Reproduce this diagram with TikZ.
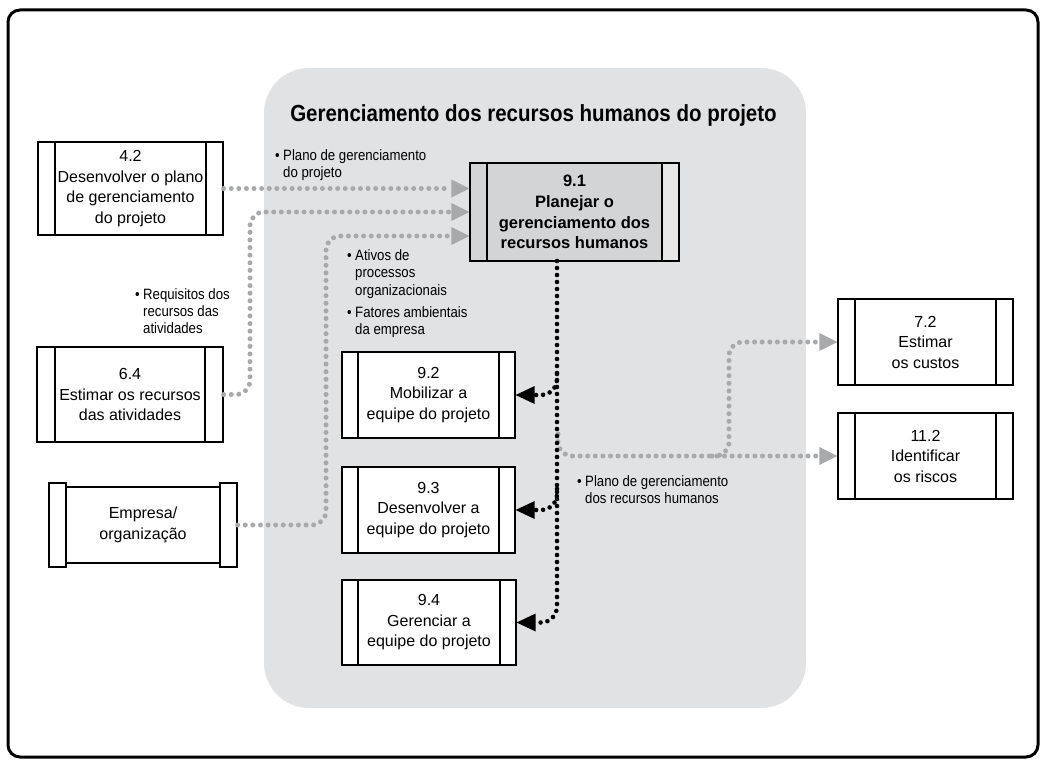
\documentclass[tikz,border=0pt]{standalone}
\usepackage{fontspec}
\setmainfont{Liberation Sans}
\newfontfamily\condfont{Liberation Sans}[FakeStretch=0.88]
\usetikzlibrary{arrows.meta}
\definecolor{regiongrey}{HTML}{E1E2E4}
\definecolor{mainfill}{HTML}{D3D4D6}
\definecolor{barlight}{HTML}{E6E6E7}
\definecolor{dotgrey}{HTML}{A8A9AB}
\newcommand\bxfont{\fontsize{16}{20.5}\selectfont}
\newcommand\lblfont{\condfont\fontsize{15}{17.2}\selectfont}
\newcommand\bul{\llap{\textbullet\hspace{3.5pt}}}
\tikzset{
  proc/.style={draw=black, line width=1.3pt, fill=white, inner sep=0pt, align=center, font=\bxfont,
    path picture={\draw[line width=1.3pt]
      ([xshift=#1]path picture bounding box.north west) -- ([xshift=#1]path picture bounding box.south west)
      ([xshift=-#1]path picture bounding box.north east) -- ([xshift=-#1]path picture bounding box.south east);}},
  mainproc/.style={draw=black, line width=1.3pt, fill=mainfill, inner sep=0pt, align=center,
    font=\bfseries\fontsize{16.5}{20.7}\selectfont,
    path picture={\fill[barlight] ([xshift=-#1]path picture bounding box.north east) rectangle (path picture bounding box.south east);
      \draw[line width=1.3pt]
      ([xshift=#1]path picture bounding box.north west) -- ([xshift=#1]path picture bounding box.south west)
      ([xshift=-#1]path picture bounding box.north east) -- ([xshift=-#1]path picture bounding box.south east);}},
  scrollbar/.style={draw=black, line width=1.3pt, fill=white, inner sep=0pt, minimum width=17pt, minimum height=84pt},
  lbl/.style={anchor=west, align=left, inner sep=0pt, font=\lblfont},
  gdot/.style={draw=dotgrey, line width=5pt, line cap=round, dash pattern=on 0pt off 7.6pt, rounded corners=14pt,
    -{Triangle[length=18pt,width=18pt,line width=0pt]}},
  bdot/.style={draw=black, line width=4.6pt, line cap=round, dash pattern=on 0pt off 7pt, rounded corners=16pt,
    -{Triangle[length=19pt,width=18pt,line width=0pt]}},
}
\begin{document}
\begin{tikzpicture}[x=1pt,y=-1pt]
\useasboundingbox (0,0) rectangle (1046,765);
\draw[line width=3pt, rounded corners=12pt] (8,10) rectangle (1038,757);
\fill[regiongrey, rounded corners=45pt] (264,68) rectangle (806,708);
\node[font=\condfont\bfseries\fontsize{23.3}{28}\selectfont, inner sep=0pt] (title) at (533.5,115) {Gerenciamento dos recursos humanos do projeto};

% process boxes
\node[proc=17pt, minimum width=185pt, minimum height=93pt] (n42) at (130.5,188.5) {4.2\\Desenvolver o plano\\de gerenciamento\\do projeto};
\node[proc=18pt, minimum width=186pt, minimum height=95pt] (n64) at (130,394.5) {6.4\\Estimar os recursos\\das atividades};
\node[draw=black, line width=1.3pt, fill=white, inner sep=0pt, align=center, font=\bxfont, minimum width=188pt, minimum height=76pt] (emp) at (143,525) {Empresa/\\organização};
\node[scrollbar] (empL) at (57.5,525) {};
\node[scrollbar] (empR) at (228.5,525) {};
\node[mainproc=17pt, minimum width=209pt, minimum height=98pt] (n91) at (574.5,212) {9.1\\Planejar o\\gerenciamento dos\\recursos humanos};
\node[proc=16pt, minimum width=173pt, minimum height=86pt] (n92) at (428.5,395) {9.2\\Mobilizar a\\equipe do projeto};
\node[proc=16pt, minimum width=173pt, minimum height=86pt] (n93) at (428.5,510) {9.3\\Desenvolver a\\equipe do projeto};
\node[proc=16pt, minimum width=174pt, minimum height=85pt] (n94) at (429,622.5) {9.4\\Gerenciar a\\equipe do projeto};
\node[proc=17pt, minimum width=175pt, minimum height=86pt] (n72) at (925.5,342) {7.2\\Estimar\\os custos};
\node[proc=17pt, minimum width=175pt, minimum height=86pt] (n112) at (925.5,456) {11.2\\Identificar\\os riscos};

% labels
\node[lbl] (l1) at (283,165) {\bul Plano de gerenciamento\\do projeto};
\node[lbl] (l2) at (143,311) {\bul Requisitos dos\\recursos das\\atividades};
\node[lbl] (l3) at (355,274) {\bul Ativos de\\processos\\organizacionais};
\node[lbl] (l4) at (355,322) {\bul Fatores ambientais\\da empresa};
\node[lbl] (l5) at (585,489.5) {\bul Plano de gerenciamento\\dos recursos humanos};

% coordinates
\coordinate (vtop) at (557,261);
\coordinate (g64) at (250,394.5);
\coordinate (g64t) at (250,212);
\coordinate (gemp) at (326,525);
\coordinate (gempt) at (326,236);
\coordinate (b2) at (557,374);
\coordinate (b2c) at (557,395);
\coordinate (b3) at (557,489);
\coordinate (b3c) at (557,510);
\coordinate (gs) at (558,434);
\coordinate (gsc) at (558,456);
\coordinate (gb) at (712,456);
\coordinate (gbc) at (729,456);
\coordinate (gbt) at (729,342);

% grey input arrows
\draw[gdot] (n42.east) -- (n91.west |- n42.east);
\draw[gdot] (n64.east) -- (g64) -- (g64t) -- (n91.west);
\draw[gdot] (emp.east) -- (gemp) -- (gempt) -- ([yshift=-24pt]n91.west);

% grey output arrows
\draw[gdot] (gs) -- (gsc) -- (n112.west);
\draw[gdot] (gb) -- (gbc) -- (gbt) -- (n72.west);

% black arrows
\draw[bdot] (vtop) |- (n94.east);
\draw[bdot] (b2) -- (b2c) -- (n92.east);
\draw[bdot] (b3) -- (b3c) -- (n93.east);
\end{tikzpicture}
\end{document}
